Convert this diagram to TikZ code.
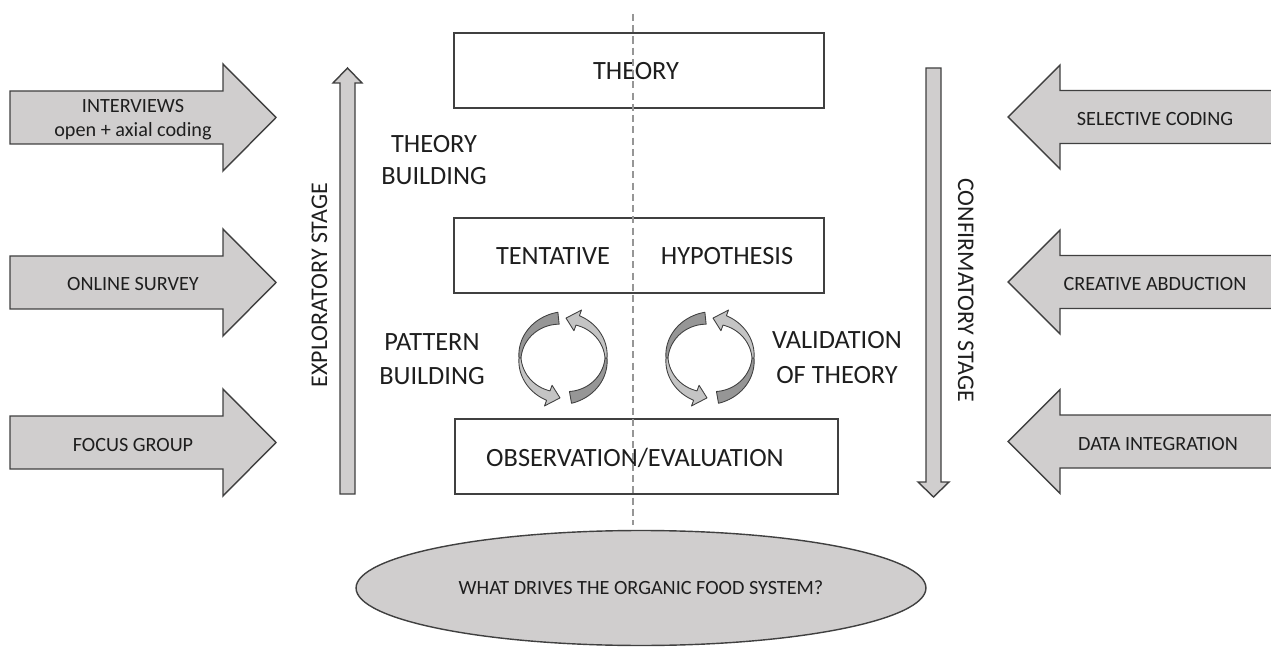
\documentclass[tikz,border=0pt]{standalone}
\usepackage{fontspec}
\setmainfont{Carlito}
\usetikzlibrary{shapes.geometric}
\definecolor{fillgray}{RGB}{208,206,206}
\definecolor{edgegray}{RGB}{64,64,64}
\definecolor{ribdark}{RGB}{150,150,150}
\definecolor{riblight}{RGB}{196,196,196}
\definecolor{dashgray}{RGB}{150,150,150}
\definecolor{txtcol}{RGB}{30,30,30}
% ribbon segment of a circular arrow: cx cy a b ha hb style
\newcommand\ribseg[7]{%
  \filldraw[#7] plot[domain=#3:#4,samples=30] ({#1+(43+(#5+(#6-#5)*(\x-#3)/(#4-#3)))*cos(\x)},{#2-(40+(#5+(#6-#5)*(\x-#3)/(#4-#3)))*sin(\x)})
  -- plot[domain=#4:#3,samples=30] ({#1+(43-(#5+(#6-#5)*(\x-#3)/(#4-#3)))*cos(\x)},{#2-(40-(#5+(#6-#5)*(\x-#3)/(#4-#3)))*sin(\x)}) -- cycle;}
% ribbon segment ending in an arrow head: cx cy a b ha hb tipangle style
\newcommand\ribhead[8]{%
  \filldraw[#8] plot[domain=#3:#4,samples=30] ({#1+(43+(#5+(#6-#5)*(\x-#3)/(#4-#3)))*cos(\x)},{#2-(40+(#5+(#6-#5)*(\x-#3)/(#4-#3)))*sin(\x)})
  -- ({#1+54*cos(#4)},{#2-51*sin(#4)}) -- ({#1+43*cos(#7)},{#2-40*sin(#7)}) -- ({#1+32*cos(#4)},{#2-29*sin(#4)})
  -- plot[domain=#4:#3,samples=30] ({#1+(43-(#5+(#6-#5)*(\x-#3)/(#4-#3)))*cos(\x)},{#2-(40-(#5+(#6-#5)*(\x-#3)/(#4-#3)))*sin(\x)}) -- cycle;}
\begin{document}
\begin{tikzpicture}[x=0.02cm,y=-0.02cm,
  blk/.style={fill=fillgray,draw=edgegray,line width=0.8pt,line join=miter},
  box/.style={draw=edgegray,fill=white,line width=0.8pt,inner sep=0pt},
  bigtxt/.style={font=\fontsize{15}{19.3}\selectfont,inner sep=0pt,text=txtcol},
  smalltxt/.style={font=\fontsize{11.5}{13.6}\selectfont,inner sep=0pt,text=txtcol},
  stagetxt/.style={font=\fontsize{13.6}{16}\selectfont,inner sep=0pt,text=txtcol},
  dashline/.style={draw=dashgray,line width=0.6pt,dash pattern=on 4pt off 2.4pt},
  rdark/.style={fill=ribdark,draw=edgegray,line width=0.5pt,line join=round},
  rlight/.style={fill=riblight,draw=edgegray,line width=0.5pt,line join=round}]
\useasboundingbox (0,0) rectangle (1271,648);
\clip (0,0) rectangle (1271,648);

% left block arrows
\foreach \yc in {117.5,282.5,442.5}
  \draw[blk] (10,\yc-26.5) -- (223,\yc-26.5) -- (223,\yc-53.5) -- (276,\yc) -- (223,\yc+53.5) -- (223,\yc+26.5) -- (10,\yc+26.5) -- cycle;
% right block arrows
\foreach \yc in {117,282,441.5}
  \draw[blk] (1300,\yc-26.5) -- (1060,\yc-26.5) -- (1060,\yc-52) -- (1008,\yc) -- (1060,\yc+52) -- (1060,\yc+26.5) -- (1300,\yc+26.5) -- cycle;

\node[smalltxt,anchor=base] (int1) at (133,113) {INTERVIEWS};
\node[smalltxt,anchor=base] (int2) at (133,137) {open + axial coding};
\node[smalltxt,anchor=base] (onl) at (133,291) {ONLINE SURVEY};
\node[smalltxt,anchor=base] (foc) at (133,451) {FOCUS GROUP};
\node[smalltxt,anchor=base] (sel) at (1155,125.5) {SELECTIVE CODING};
\node[smalltxt,anchor=base] (cre) at (1155,290.5) {CREATIVE ABDUCTION};
\node[smalltxt,anchor=base] (dat) at (1158,450) {DATA INTEGRATION};

% vertical stage arrows
\draw[blk] (340,494) -- (340,83) -- (333,83) -- (347.5,68) -- (362,83) -- (355,83) -- (355,494) -- cycle;
\draw[blk] (926,68) -- (941,68) -- (941,482) -- (949,482) -- (933.5,497) -- (918,482) -- (926,482) -- cycle;
\node[stagetxt,rotate=90,anchor=base] (expl) at (327,285) {EXPLORATORY STAGE};
\node[stagetxt,rotate=-90,anchor=base] (conf) at (958,290) {CONFIRMATORY STAGE};

% boxes
\node[box,minimum width=7.4cm,minimum height=1.5cm] (theory) at (639,70.5) {};
\node[box,minimum width=7.4cm,minimum height=1.5cm] (tent) at (639,255.5) {};
\node[box,minimum width=7.66cm,minimum height=1.5cm] (obs) at (646.5,456.5) {};
\node[bigtxt,anchor=base] (theorytxt) at (636,80) {THEORY};
\node[bigtxt,anchor=base] (tenttxt) at (553,265) {TENTATIVE};
\node[bigtxt,anchor=base] (hyptxt) at (727,265) {HYPOTHESIS};
\node[bigtxt,anchor=base] (obstxt) at (635,466) {OBSERVATION/EVALUATION};

% side labels
\node[bigtxt,anchor=base] (tb1) at (434,153) {THEORY};
\node[bigtxt,anchor=base] (tb2) at (434,185) {BUILDING};
\node[bigtxt,anchor=base] (pb1) at (432,351) {PATTERN};
\node[bigtxt,anchor=base] (pb2) at (432,385) {BUILDING};
\node[bigtxt,anchor=base] (vt1) at (837,349) {VALIDATION};
\node[bigtxt,anchor=base] (vt2) at (837,384) {OF THEORY};

% ellipse
\node[ellipse,fill=fillgray,draw=edgegray,line width=0.8pt,minimum width=11.4cm,minimum height=2.3cm,inner sep=0pt,smalltxt] (q) at (641,588) {WHAT DRIVES THE ORGANIC FOOD SYSTEM?};

% circular arrows
\foreach \cx in {563,710} {
  \ribseg{\cx}{358}{96}{180}{6}{1}{rdark}
  \ribhead{\cx}{358}{180}{250}{1}{5}{266}{rlight}
  \ribseg{\cx}{358}{280}{360}{6}{1}{rdark}
  \ribhead{\cx}{358}{360}{430}{1}{5}{446}{rlight}
}

% dashed centre line
\coordinate (dtop) at (633,14);
\coordinate (dbot) at (633,525);
\draw[dashline] (dtop) -- (dbot);
\end{tikzpicture}
\end{document}
